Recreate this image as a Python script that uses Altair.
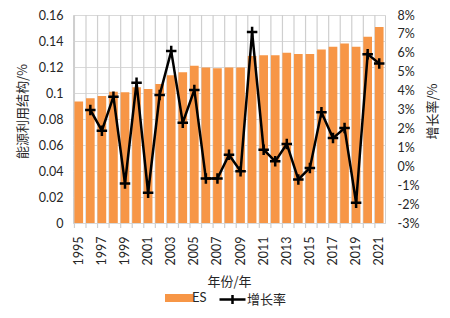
import altair as alt
import pandas as pd

years = list(range(1995, 2022))
es = [0.0934, 0.0959, 0.0977, 0.1010, 0.1005, 0.1044, 0.1031, 0.1070, 0.1136,
      0.1160, 0.1210, 0.1197, 0.1190, 0.1197, 0.1197, 0.1284, 0.1290, 0.1290,
      0.1309, 0.1300, 0.1300, 0.1335, 0.1356, 0.1380, 0.1356, 0.1432, 0.1508]
growth_years = years[1:]
growth = [2.98, 1.88, 3.68, -0.91, 4.42, -1.40, 3.77, 6.09, 2.30, 4.04, -0.65,
          -0.65, 0.61, -0.26, 7.10, 0.88, 0.26, 1.18, -0.70, -0.09, 2.86, 1.49,
          2.02, -1.93, 5.93, 5.44]
left_ticks = [0, 0.02, 0.04, 0.06, 0.08, 0.1, 0.12, 0.14, 0.16]
right_ticks = list(range(-3, 9))

df_bar = pd.DataFrame({"year": years, "es": es})
df_line = pd.DataFrame({"year": growth_years, "g": growth})

FONT = "Lato"
CJK = "Noto Sans CJK SC"
TXT = "#262626"
GRID = "#d9d9d9"
VGRID = "#cfcfcf"
H = 208

xscale = alt.Scale(domain=years, paddingInner=0.25, paddingOuter=0.125)

# vertical category gridlines and outward ticks at band boundaries
vgrid = alt.Chart(df_bar).mark_rule(color=VGRID, strokeWidth=1.2).encode(
    x=alt.X("year:O", scale=xscale, bandPosition=0),
    y=alt.value(0), y2=alt.value(H + 5),
)

bars = alt.Chart(df_bar).mark_bar(color="#F79646").encode(
    x=alt.X("year:O", scale=xscale, title="年份/年",
            axis=alt.Axis(grid=False, ticks=False, domainColor=GRID,
                          labelAngle=-90, labelPadding=13,
                          labelExpr="datum.value % 2 == 1 ? datum.label : ''",
                          labelFont=FONT, labelFontSize=12.5, labelColor=TXT,
                          titleFont=CJK, titleFontSize=13, titleColor=TXT,
                          titleFontWeight="normal", titleY=58,
                          titleBaseline="middle")),
    y=alt.Y("es:Q", scale=alt.Scale(domain=[0, 0.16], nice=False),
            title="能源利用结构/%",
            axis=alt.Axis(values=left_ticks, format=".2~f", grid=True,
                          gridColor=GRID, ticks=False, domain=False,
                          labelPadding=10, labelFont=FONT, labelFontSize=12.5,
                          labelColor=TXT, titleFont=CJK, titleFontSize=13,
                          titleColor=TXT, titleFontWeight="normal",
                          titleX=-51, titleY=96, titleAngle=-90,
                          titleAlign="center", titleBaseline="middle")),
    fill=alt.Fill("s:N", scale=alt.Scale(domain=["ES"], range=["#F79646"]),
                  legend=alt.Legend(title=None, orient="none", legendX=96,
                                    legendY=273,
                                    symbolType="M-1.4,-0.4L1.4,-0.4L1.4,0.4L-1.4,0.4Z",
                                    symbolSize=400, symbolStrokeWidth=0,
                                    labelFont=FONT, labelFontSize=13,
                                    labelColor=TXT, labelOffset=3)),
).transform_calculate(s="'ES'")

line = alt.Chart(df_line).mark_line(
    color="black", strokeWidth=2.5,
    point=alt.OverlayMarkDef(shape="M-1,0L1,0M0,-1L0,1", filled=False,
                             size=110, strokeWidth=2.5, color="black")
).encode(
    x=alt.X("year:O", scale=xscale),
    y=alt.Y("g:Q", scale=alt.Scale(domain=[-3, 8], nice=False),
            title="增长率/%",
            axis=alt.Axis(orient="right", values=right_ticks,
                          labelExpr="datum.value + '%'", grid=False,
                          ticks=False, domain=False, labelPadding=12,
                          labelFont=FONT, labelFontSize=12.5, labelColor=TXT,
                          titleFont=CJK, titleFontSize=13, titleColor=TXT,
                          titleFontWeight="normal", titleX=47, titleY=96,
                          titleAngle=-90, titleAlign="center",
                          titleBaseline="middle")),
    stroke=alt.Stroke("s:N", scale=alt.Scale(domain=["增长率"], range=["black"]),
                      legend=alt.Legend(title=None, orient="none", legendX=148,
                                        legendY=273,
                                        symbolType="M-1.3,0L1.3,0M0,-0.45L0,0.45",
                                        symbolSize=400, symbolStrokeWidth=2.5,
                                        symbolStrokeColor="black",
                                        labelFont=CJK, labelFontSize=13,
                                        labelColor=TXT, labelOffset=3)),
).transform_calculate(s="'增长率'")

chart = alt.layer(vgrid, bars, line).resolve_scale(
    y="independent", fill="independent", stroke="independent"
).properties(
    width=312, height=H,
    autosize=alt.AutoSizeParams(type="none"),
    padding={"left": 65, "top": 7, "right": 57, "bottom": 96},
).configure_view(stroke=VGRID)

chart.save("out.html", embed_options={"renderer": "svg", "actions": False})
